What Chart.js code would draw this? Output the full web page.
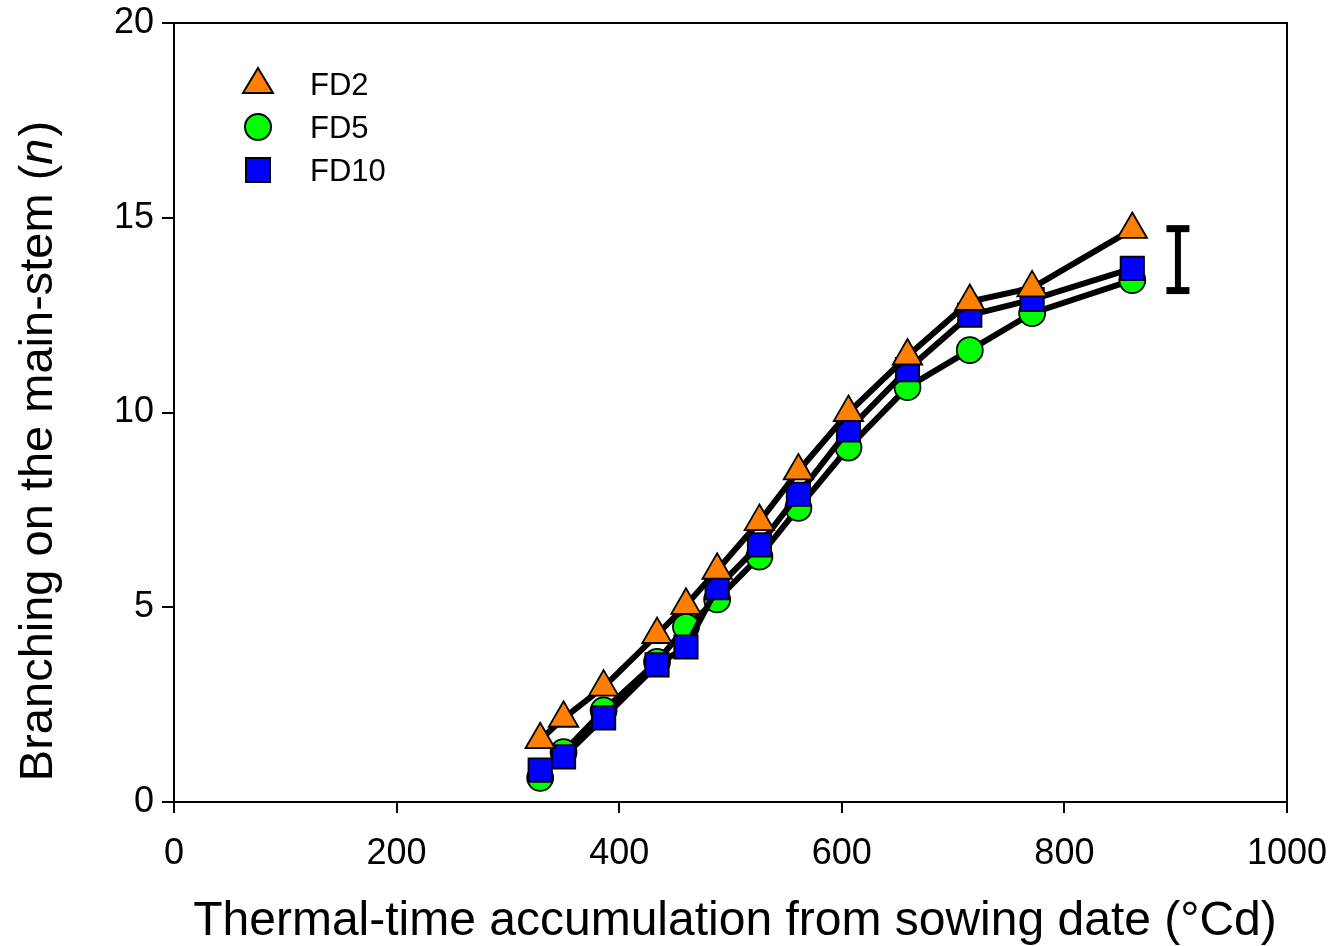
<!DOCTYPE html>
<html>
<head>
<meta charset="utf-8">
<script src="https://cdn.jsdelivr.net/npm/chart.js@4/dist/chart.umd.min.js"></script>
<style>
  html, body { margin: 0; padding: 0; background: #fff; }
  #wrap { width: 1337px; height: 946px; }
</style>
</head>
<body>
<div id="wrap"><canvas id="myChart" width="1337" height="946"></canvas></div>
<script>
// thermal time (°Cd), shared by all three sowing treatments
const thermalTime = [329, 350, 386, 434, 460, 488, 526, 561, 606, 659, 715, 771, 861];
const fd2  = [1.6, 2.15, 2.95, 4.3, 5.05, 5.95, 7.2, 8.5, 10.0, 11.45, 12.85, 13.2, 14.7];
const fd5  = [0.62, 1.28, 2.35, 3.6, 4.5, 5.2, 6.3, 7.55, 9.1, 10.65, 11.6, 12.55, 13.4];
const fd10 = [0.82, 1.16, 2.16, 3.52, 3.98, 5.5, 6.6, 7.9, 9.55, 11.1, 12.5, 12.9, 13.7];
const seriesNames = ['FD2', 'FD5', 'FD10'];
// error bar (LSD) drawn to the right of the curves
const errX = 902;
const errLow = 13.13;
const errHigh = 14.72;

const xTicks = [0, 200, 400, 600, 800, 1000];
const yTicks = [0, 5, 10, 15, 20];

const FONT = "'Liberation Sans', Arial, sans-serif";

function pts(ys) {
    return thermalTime.map((t, i) => ({x: t, y: ys[i]}));
}

// axis titles, legend and frame
const extras = {
    id: 'extras',
    beforeDatasetsDraw(chart) {
        const c = chart.ctx, a = chart.chartArea;
        c.save();
        c.strokeStyle = '#000';
        c.lineWidth = 2;
        c.beginPath();
        c.moveTo(a.left, a.top);
        c.lineTo(a.right, a.top);
        c.lineTo(a.right, a.bottom);
        c.stroke();
        c.restore();
    },
    afterDraw(chart) {
        const c = chart.ctx;
        c.save();
        c.fillStyle = '#000';
        // x title
        c.font = '48px ' + FONT;
        c.textAlign = 'center';
        c.textBaseline = 'alphabetic';
        c.fillText('Thermal-time accumulation from sowing date (°Cd)', 735, 935);

        // y title with italic n
        const p1 = 'Branching on the main-stem (', p2 = 'n', p3 = ')';
        c.font = '47px ' + FONT;
        const w1 = c.measureText(p1).width, w3 = c.measureText(p3).width;
        c.font = 'italic 47px ' + FONT;
        const w2 = c.measureText(p2).width;
        const total = w1 + w2 + w3;
        c.translate(52, 452);
        c.rotate(-Math.PI / 2);
        c.textAlign = 'left';
        let x0 = -total / 2;
        c.font = '47px ' + FONT;
        c.fillText(p1, x0, 0);
        c.font = 'italic 47px ' + FONT;
        c.fillText(p2, x0 + w1, 0);
        c.font = '47px ' + FONT;
        c.fillText(p3, x0 + w1 + w2 + 2, 0);
        c.restore();

        // legend
        c.save();
        c.font = '31px ' + FONT;
        c.textBaseline = 'middle';
        c.textAlign = 'left';
        const rows = [84, 127, 170];
        const lx = 258;
        c.strokeStyle = '#000';
        c.lineWidth = 2;
        // triangle
        c.fillStyle = '#ff7f00';
        c.beginPath();
        c.moveTo(lx, rows[0] - 16);
        c.lineTo(lx + 15, rows[0] + 9);
        c.lineTo(lx - 15, rows[0] + 9);
        c.closePath();
        c.fill(); c.stroke();
        // circle
        c.fillStyle = '#00ff00';
        c.beginPath();
        c.arc(lx, rows[1], 13, 0, Math.PI * 2);
        c.fill(); c.stroke();
        // square
        c.fillStyle = '#0000ff';
        c.fillRect(lx - 12, rows[2] - 12, 24, 24);
        c.strokeRect(lx - 12, rows[2] - 12, 24, 24);
        c.fillStyle = '#000';
        seriesNames.forEach((n, i) => c.fillText(n, 310, rows[i] + 2));
        c.restore();
    }
};

const ctx = document.getElementById('myChart');
const myChart = new Chart(ctx, {
    type: 'line',
    data: {
        datasets: [{
            label: seriesNames[0],
            data: pts(fd2),
            borderColor: '#000',
            borderWidth: 6,
            pointStyle: 'triangle',
            pointRadius: 17,
            pointBackgroundColor: '#ff7f00',
            pointBorderColor: '#000',
            pointBorderWidth: 1.8,
            order: 0
        }, {
            label: seriesNames[1],
            data: pts(fd5),
            borderColor: '#000',
            borderWidth: 6,
            pointStyle: 'circle',
            pointRadius: 13,
            pointBackgroundColor: '#00ff00',
            pointBorderColor: '#000',
            pointBorderWidth: 1.8,
            order: 2
        }, {
            label: seriesNames[2],
            data: pts(fd10),
            borderColor: '#000',
            borderWidth: 6,
            pointStyle: 'rect',
            pointRadius: 16.5,
            pointBackgroundColor: '#0000ff',
            pointBorderColor: '#000',
            pointBorderWidth: 1.8,
            order: 1
        }, {
            label: 'error',
            data: [{x: errX, y: errLow}, {x: errX, y: errHigh}],
            borderColor: '#000',
            borderWidth: 6,
            pointStyle: 'line',
            pointRadius: 11.5,
            pointBorderColor: '#000',
            pointBorderWidth: 7,
            order: 3
        }]
    },
    options: {
        responsive: false,
        animation: false,
        layout: { padding: { left: 0, right: 50, top: 23, bottom: 0 } },
        plugins: {
            legend: { display: false },
            tooltip: { enabled: false }
        },
        scales: {
            x: {
                type: 'linear',
                min: 0,
                max: 1000,
                afterBuildTicks: (s) => { s.ticks = xTicks.map(v => ({value: v})); },
                afterFit: (s) => { s.height = 144; s.paddingLeft = 0; s.paddingRight = 0; },
                grid: { drawOnChartArea: false, drawTicks: true, tickLength: 11, color: '#000', lineWidth: 2 },
                border: { color: '#000', width: 2 },
                ticks: { color: '#000', font: { family: FONT, size: 36 }, padding: 19, maxRotation: 0,
                         callback: (v) => String(v) }
            },
            y: {
                type: 'linear',
                min: 0,
                max: 20,
                afterBuildTicks: (s) => { s.ticks = yTicks.map(v => ({value: v})); },
                afterFit: (s) => { s.width = 174; s.paddingTop = 0; s.paddingBottom = 0; },
                grid: { drawOnChartArea: false, drawTicks: true, tickLength: 12, color: '#000', lineWidth: 2 },
                border: { color: '#000', width: 2 },
                ticks: { color: '#000', font: { family: FONT, size: 36 }, padding: 8,
                         callback: (v) => String(v) }
            }
        }
    },
    plugins: [extras]
});
</script>
</body>
</html>
